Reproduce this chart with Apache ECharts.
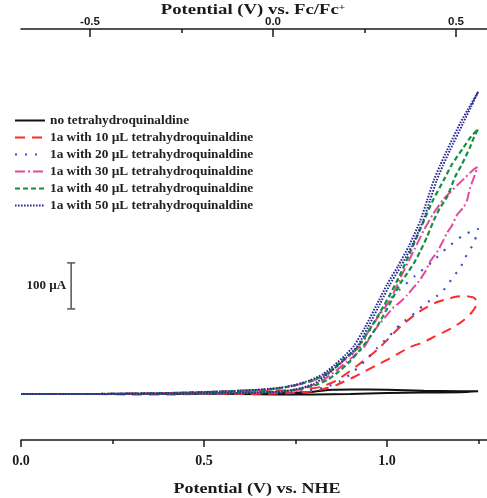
<!DOCTYPE html>
<html><head><meta charset="utf-8">
<script src="https://cdn.jsdelivr.net/npm/echarts@6/dist/echarts.min.js"></script>
<style>html,body{margin:0;padding:0;background:#fff}#c{width:487px;height:498px}</style>
</head><body><div id="c"></div>
<script>
// Axis ranges
const X_MIN = 0, X_MAX = 1.2732;          // Potential (V) vs. NHE
const FC_OFFSET = 0.6885;                 // NHE - Fc/Fc+
const Y_MIN = -100, Y_MAX = 793.5;        // current, µA (hidden axis)
const bottomMajorTicks = [0, 0.5, 1.0];
const bottomMinorTicks = [0.25, 0.75, 1.25];
const topMajorTicks = [-0.5, 0, 0.5];
const topMinorTicks = [-0.25, 0.25];
const bottomTitle = 'Potential (V) vs. NHE';
const topTitleMain = 'Potential (V) vs. Fc/Fc', topTitleSup = '+';

const seriesNames = [
  'no tetrahydroquinaldine',
  '1a with 10 µL tetrahydroquinaldine',
  '1a with 20 µL tetrahydroquinaldine',
  '1a with 30 µL tetrahydroquinaldine',
  '1a with 40 µL tetrahydroquinaldine',
  '1a with 50 µL tetrahydroquinaldine'
];

// [potential V vs NHE, current µA] : forward scan then reverse scan
const curveNone = [[0,0],[0.2,0],[0.4,0],[0.5,1],[0.6,1],[0.7,2],[0.75,3],[0.8,5],[0.85,9],[0.9,10],[1.0,9],[1.1,7],[1.2,6],[1.249,6],
  [1.2,4],[1.1,3],[1.0,2],[0.9,0],[0.8,-1],[0.7,-1],[0.6,0],[0.4,0],[0.2,0],[0,0]];
const curve10 = [[0,0],[0.1,0],[0.2,0],[0.3,1],[0.4,2],[0.5,3],[0.6,5],[0.66,6],[0.72,8],[0.78,11],[0.817,15],[0.863,30],[0.921,63],[0.973,96],[1.0,117],[1.036,146],[1.082,176],[1.109,189],[1.137,200],[1.158,205],[1.191,212],[1.21,213],[1.238,209],[1.247,198],
  [1.232,178],[1.21,161],[1.183,146],[1.156,135],[1.128,124],[1.101,113],[1.063,102],[1.033,89],[1.0,74],[0.973,63],[0.937,48],[0.91,37],[0.89,30],[0.863,20],[0.844,15],[0.817,9],[0.78,4],[0.7,1],[0.6,0],[0.5,0],[0.4,-1],[0.3,-1],[0.2,0],[0.1,0],[0,0]];
const curve20 = [[0,0],[0.1,0],[0.2,0],[0.3,1],[0.4,2],[0.5,4],[0.6,7],[0.66,9],[0.71,13],[0.75,19],[0.79,27],[0.825,38],[0.855,55],[0.885,75],[0.921,98],[0.96,148],[0.995,193],[1.036,228],[1.077,257],[1.123,287],[1.164,318],[1.208,345],[1.24,357],[1.249,359],
  [1.245,345],[1.24,335],[1.227,313],[1.213,296],[1.2,274],[1.18,254],[1.164,235],[1.145,218],[1.117,203],[1.098,192],[1.082,180],[1.06,166],[1.036,151],[1.019,137],[1.0,121],[0.973,100],[0.951,81],[0.926,61],[0.9,43],[0.872,28],[0.83,14],[0.76,5],[0.7,3],[0.6,2],[0.5,1],[0.4,0],[0.3,0],[0.2,0],[0.1,0],[0,0]];
const curve30 = [[0,0],[0.1,0],[0.2,0],[0.3,1],[0.4,2],[0.5,4],[0.6,7],[0.66,9],[0.71,13],[0.75,19],[0.79,27],[0.825,38],[0.855,55],[0.885,75],[0.921,100],[0.96,150],[1.008,204],[1.04,258],[1.074,313],[1.1,355],[1.125,390],[1.153,422],[1.178,443],[1.213,470],[1.235,487],[1.247,493],
  [1.238,472],[1.227,448],[1.219,422],[1.21,407],[1.191,389],[1.178,367],[1.164,350],[1.15,328],[1.137,309],[1.117,287],[1.104,265],[1.085,243],[1.071,230],[1.055,215],[1.036,200],[1.016,187],[0.995,167],[0.973,146],[0.955,125],[0.937,102],[0.913,85],[0.89,70],[0.86,50],[0.83,33],[0.8,20],[0.75,9],[0.7,5],[0.6,2],[0.5,1],[0.4,0],[0.3,0],[0.2,0],[0.1,0],[0,0]];
const curve40 = [[0,0],[0.1,0],[0.2,0],[0.3,1],[0.4,2],[0.5,4],[0.6,7],[0.66,9],[0.71,13],[0.75,19],[0.79,28],[0.825,40],[0.855,57],[0.885,78],[0.918,100],[0.96,150],[1.0,204],[1.035,258],[1.066,313],[1.096,368],[1.126,422],[1.155,465],[1.178,500],[1.21,537],[1.23,560],[1.249,576],
  [1.238,559],[1.227,537],[1.205,500],[1.186,472],[1.164,428],[1.145,405],[1.128,378],[1.109,341],[1.09,309],[1.074,285],[1.055,262],[1.036,240],[1.02,215],[1.0,185],[0.975,150],[0.95,120],[0.926,96],[0.9,72],[0.87,50],[0.84,32],[0.8,18],[0.75,9],[0.7,5],[0.6,2],[0.5,1],[0.4,0],[0.3,0],[0.2,0],[0.1,0],[0,0]];
const curve50 = [[0,0],[0.1,0],[0.2,0],[0.3,1],[0.4,2],[0.5,4],[0.6,7],[0.66,10],[0.71,14],[0.75,20],[0.79,30],[0.825,43],[0.855,62],[0.885,84],[0.91,105],[0.94,145],[0.978,204],[1.0,238],[1.03,278],[1.06,322],[1.09,375],[1.11,422],[1.128,465],[1.145,497],[1.164,530],[1.2,589],[1.22,617],[1.249,657],
  [1.23,625],[1.208,589],[1.172,530],[1.153,497],[1.136,465],[1.118,422],[1.098,375],[1.068,322],[1.038,278],[1.008,238],[0.986,204],[0.948,145],[0.92,105],[0.89,80],[0.86,58],[0.83,38],[0.8,22],[0.75,10],[0.7,5],[0.6,2],[0.5,1],[0.4,0],[0.3,0],[0.2,0],[0.1,0],[0,0]];

const curves = [curveNone, curve10, curve20, curve30, curve40, curve50];
const colors = ['#111111', '#ff2b2b', '#3d4fc4', '#e6489c', '#12913f', '#2b2d92'];
const dashes = ['solid', [10, 7], [2, 8], [10, 3, 2, 3], [5, 3], [1.6, 1.4]];
const widths = [2, 2, 2.2, 2, 2.2, 2];

// Scale bar (in data units)
const scaleBarV = 0.137, scaleBarI0 = 185, scaleBarLen = 100, scaleBarLabel = '100 µA';

const SERIF = '"Liberation Serif", "Times New Roman", serif';
const SANS = '"Liberation Sans", Arial, sans-serif';
const fmt = v => (Math.abs(v) < 1e-9 ? 0 : v).toFixed(1);

const chart = echarts.init(document.getElementById('c'), null, {renderer: 'canvas'});
const gridBox = {left: 21, right: 0, top: 29, bottom: 58, outerBoundsMode: 'none', containLabel: false};

const series = curves.map((d, k) => ({
  name: seriesNames[k], type: 'line', xAxisIndex: 0, yAxisIndex: 0,
  data: d, symbol: 'none', showSymbol: false, smooth: 0.2,
  lineStyle: {color: colors[k], width: widths[k], type: dashes[k]},
  itemStyle: {color: colors[k]},
  z: 2 + k
}));
series.push({
  type: 'custom', xAxisIndex: 0, yAxisIndex: 0, silent: true, z: 10,
  data: [[scaleBarV, scaleBarI0, scaleBarI0 + scaleBarLen]],
  renderItem: (params, api) => {
    const b = api.coord([api.value(0), api.value(1)]);
    const t = api.coord([api.value(0), api.value(2)]);
    const st = {stroke: '#555', lineWidth: 1.5};
    return {type: 'group', children: [
      {type: 'line', shape: {x1: b[0], y1: b[1], x2: t[0], y2: t[1]}, style: st},
      {type: 'line', shape: {x1: b[0] - 4, y1: b[1], x2: b[0] + 4, y2: b[1]}, style: st},
      {type: 'line', shape: {x1: t[0] - 4, y1: t[1], x2: t[0] + 4, y2: t[1]}, style: st},
      {type: 'text', x: b[0] - 5, y: (b[1] + t[1]) / 2,
       style: {text: scaleBarLabel, align: 'right', verticalAlign: 'middle',
               fontFamily: SERIF, fontWeight: 'bold', fontSize: 13, fill: '#222'}}
    ]};
  }
});

const axisLineStyle = {color: '#1a1a1a', width: 1.5};
chart.setOption({
  animation: false,
  backgroundColor: '#fff',
  grid: [Object.assign({}, gridBox), Object.assign({}, gridBox)],
  legend: {
    orient: 'vertical', left: 14, top: 113, padding: 0,
    itemWidth: 30, itemHeight: 2, itemGap: 2,
    itemStyle: {opacity: 0},
    selectedMode: false, data: seriesNames,
    textStyle: {fontFamily: SERIF, fontWeight: 'bold', fontSize: 13.3, color: '#222', lineHeight: 15}
  },
  graphic: [
    {type: 'text', x: 253, y: 10.5, scaleX: 1.25, silent: true,
     style: {text: '{a|' + topTitleMain + '}{s|' + topTitleSup + '}', align: 'center', verticalAlign: 'middle',
       rich: {
         a: {fontFamily: SERIF, fontWeight: 'bold', fontSize: 15, fill: '#1a1a1a'},
         s: {fontFamily: SERIF, fontWeight: 'bold', fontSize: 9, fill: '#1a1a1a', verticalAlign: 'top'}
       }}},
    {type: 'text', x: 257, y: 489, scaleX: 1.2, silent: true,
     style: {text: bottomTitle, align: 'center', verticalAlign: 'middle',
       fontFamily: SERIF, fontWeight: 'bold', fontSize: 15, fill: '#1a1a1a'}}
  ],
  xAxis: [
    {gridIndex: 0, type: 'value', position: 'bottom', min: X_MIN, max: X_MAX,
     axisLine: {show: true, onZero: false, lineStyle: axisLineStyle},
     axisTick: {show: true, inside: false, length: 7, customValues: bottomMajorTicks, lineStyle: axisLineStyle},
     axisLabel: {customValues: bottomMajorTicks, formatter: fmt, fontFamily: SERIF, fontWeight: 'bold', fontSize: 14, color: '#1a1a1a', margin: 14},
     splitLine: {show: false}},
    {gridIndex: 0, type: 'value', position: 'top', min: X_MIN - FC_OFFSET, max: X_MAX - FC_OFFSET,
     axisLine: {show: true, onZero: false, lineStyle: axisLineStyle},
     axisTick: {show: true, inside: true, length: 8, customValues: topMajorTicks, lineStyle: axisLineStyle},
     axisLabel: {customValues: topMajorTicks, formatter: fmt, fontFamily: SANS, fontWeight: 'bold', fontSize: 11.5, color: '#1a1a1a', margin: 1},
     splitLine: {show: false}},
    {gridIndex: 1, type: 'value', position: 'bottom', min: X_MIN, max: X_MAX,
     axisLine: {show: false, onZero: false},
     axisTick: {show: true, inside: false, length: 4, customValues: bottomMinorTicks, lineStyle: axisLineStyle},
     axisLabel: {show: false}, splitLine: {show: false}},
    {gridIndex: 1, type: 'value', position: 'top', min: X_MIN - FC_OFFSET, max: X_MAX - FC_OFFSET,
     axisLine: {show: false, onZero: false},
     axisTick: {show: true, inside: true, length: 4, customValues: topMinorTicks, lineStyle: axisLineStyle},
     axisLabel: {show: false}, splitLine: {show: false}}
  ],
  yAxis: [
    {gridIndex: 0, type: 'value', min: Y_MIN, max: Y_MAX, show: false},
    {gridIndex: 1, type: 'value', min: Y_MIN, max: Y_MAX, show: false}
  ],
  series: series
});
</script></body></html>
